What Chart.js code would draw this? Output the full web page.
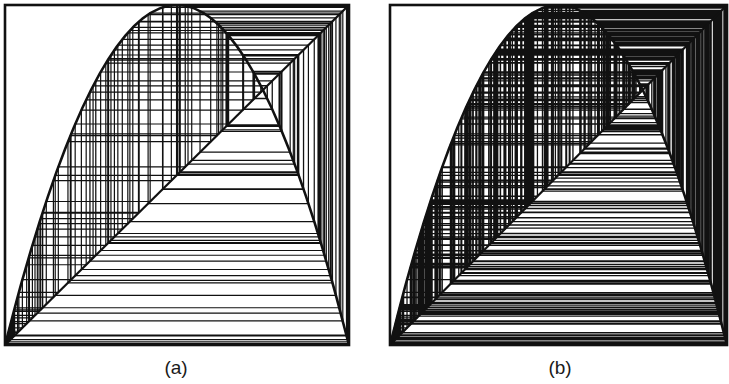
<!DOCTYPE html>
<html>
<head>
<meta charset="utf-8">
<script src="https://cdn.jsdelivr.net/npm/chart.js@4"></script>
<style>
  body { margin: 0; background: #fff; width: 729px; height: 384px; position: relative; overflow: hidden; }
  canvas { position: absolute; }
  .label {
    position: absolute; top: 357px; transform: translateX(-50%);
    font-family: "Liberation Sans", Arial, sans-serif; font-size: 19px; color: #1a1a1a;
  }
</style>
</head>
<body>
<canvas id="chartA" width="348" height="344" style="left:3px;top:3px"></canvas>
<canvas id="chartB" width="341" height="344" style="left:388px;top:3px"></canvas>
<div class="label" style="left:176px">(a)</div>
<div class="label" style="left:560px">(b)</div>
<script>
// the map curve, sampled
const curveX = [0, 0.05, 0.1, 0.15, 0.2, 0.25, 0.3, 0.35, 0.4, 0.45, 0.5,
  0.55, 0.6, 0.65, 0.7, 0.75, 0.8, 0.85, 0.9, 0.95, 1];
const curveY = [0, 0.19, 0.36, 0.51, 0.64, 0.75, 0.84, 0.91, 0.96, 0.99, 1,
  0.99, 0.96, 0.91, 0.84, 0.75, 0.64, 0.51, 0.36, 0.19, 0];

// y = x line
const diagX = [0, 1];
const diagY = [0, 1];

// iterates x0, x1, x2, ... in three stretches
const orbit1 = [
  0.12, 0.422, 0.976, 0.094, 0.341, 0.899, 0.363, 0.925, 0.278, 0.803,
  0.633, 0.929, 0.264, 0.777, 0.693, 0.851, 0.507, 0.9998, 0.0008, 0.0032,
  0.0128, 0.0505, 0.192, 0.621, 0.941, 0.222, 0.691, 0.854, 0.499, 0.9999,
  0.0004, 0.0016, 0.0064, 0.0254, 0.099, 0.357, 0.918, 0.301, 0.842, 0.532,
  0.996, 0.016, 0.063, 0.236, 0.721, 0.805, 0.628, 0.934, 0.247, 0.744,
  0.762, 0.725, 0.798, 0.645, 0.916, 0.308, 0.853, 0.502, 0.99998, 0.00008,
  0.00032, 0.00128, 0.0051, 0.0203, 0.0796, 0.293, 0.829, 0.567, 0.982, 0.071,
  0.2638, 0.7768, 0.6935, 0.8502, 0.5094, 0.99965, 0.0014, 0.0056, 0.0223, 0.0872,
  0.318, 0.868, 0.458, 0.993, 0.028, 0.109, 0.388, 0.95, 0.19, 0.616,
  0.946, 0.204, 0.65, 0.91, 0.328, 0.882, 0.416, 0.9718, 0.1096, 0.39,
  0.952, 0.183, 0.598, 0.962, 0.146, 0.4987, 0.99999
];
const orbit2 = [
  0.00004, 0.00016, 0.00064, 0.00256, 0.0102, 0.0404, 0.155, 0.524, 0.9977, 0.0092,
  0.0365, 0.1407, 0.4836, 0.9989, 0.0044, 0.0175, 0.0688, 0.256, 0.762, 0.7254,
  0.7968, 0.6476, 0.9129, 0.3181, 0.8677, 0.4592, 0.9933, 0.0266, 0.1036, 0.3715,
  0.934, 0.2468, 0.7436, 0.7626, 0.7242, 0.7989, 0.6426, 0.9187, 0.2988, 0.8381,
  0.5428, 0.9927, 0.029, 0.1126, 0.3997, 0.9598, 0.1543, 0.522, 0.9981, 0.0076,
  0.0302, 0.1172, 0.4139, 0.9704, 0.1149, 0.4068, 0.9653, 0.134, 0.4642, 0.9949,
  0.0204, 0.0799, 0.2941, 0.8304, 0.5633, 0.984, 0.0631, 0.2365, 0.7223, 0.8023,
  0.6345, 0.9276, 0.2686, 0.7858, 0.6733, 0.8799, 0.4227, 0.9761, 0.0933, 0.3384,
  0.8955, 0.3743, 0.9368, 0.2368, 0.7229, 0.8013, 0.6369, 0.925, 0.2774, 0.8018,
  0.6357, 0.9263, 0.2731, 0.7941, 0.654, 0.9051, 0.3436, 0.9022, 0.3529, 0.9135,
  0.3161, 0.8647, 0.468, 0.9959, 0.0163, 0.0641, 0.24, 0.7296, 0.7891, 0.6657,
  0.8902, 0.391, 0.9525, 0.181, 0.593, 0.9654, 0.1336, 0.463, 0.9945, 0.0219,
  0.0857, 0.3134, 0.8607, 0.4796, 0.9983, 0.0068, 0.027, 0.1051, 0.3762, 0.9387,
  0.2302, 0.7088, 0.8256, 0.5759, 0.977, 0.0899, 0.3273, 0.8807, 0.4203, 0.9746
];
const orbit3 = [
  0.099, 0.3569, 0.9181, 0.3008, 0.8413, 0.5341, 0.9954, 0.0183, 0.0719, 0.2669,
  0.7827, 0.6803, 0.87, 0.4524, 0.9909, 0.0361, 0.1392, 0.4793, 0.99829, 0.00683,
  0.02713, 0.1056, 0.3778, 0.9403, 0.2245, 0.6964, 0.8457, 0.52197, 0.99807, 0.0077,
  0.0306, 0.1187, 0.4184, 0.97337, 0.1037, 0.3718, 0.9343, 0.2455, 0.7409, 0.7679,
  0.7129, 0.8187, 0.5937, 0.9649, 0.1355, 0.4686, 0.9961, 0.0155, 0.061, 0.2291,
  0.7065, 0.8294, 0.566, 0.9826, 0.0684, 0.2549, 0.7597, 0.7302, 0.788, 0.6682,
  0.8868, 0.4015, 0.9612, 0.1492, 0.5078, 0.99976, 0.00096, 0.00384, 0.0153, 0.0603,
  0.2267, 0.70123, 0.83803, 0.5429, 0.9926, 0.0294, 0.1141, 0.4043, 0.9634, 0.141,
  0.4845, 0.999, 0.004, 0.0159, 0.0626, 0.2347, 0.7185, 0.809, 0.6181, 0.9442,
  0.2107, 0.6652, 0.8908, 0.3891, 0.9508, 0.1871, 0.6084, 0.953, 0.1792, 0.5884,
  0.9687, 0.1213, 0.4264, 0.9783, 0.0849, 0.3108, 0.8568, 0.4908, 0.9997, 0.0012,
  0.0048, 0.0191, 0.0749, 0.2772, 0.8014, 0.6366, 0.9254, 0.2761, 0.7995, 0.6412,
  0.9203, 0.2934, 0.8293, 0.5663, 0.9824, 0.0692, 0.2577, 0.7652, 0.7187, 0.8087,
  0.6188, 0.9436, 0.2129, 0.6703, 0.884, 0.4102, 0.9677, 0.125, 0.4375, 0.9844,
  0.0614, 0.2305, 0.7095, 0.8244, 0.5791, 0.975, 0.0975, 0.352, 0.9124, 0.3197, 0.87
];
const orbit = orbit1.concat(orbit2, orbit3);

// (a) shows the first stepsA iterates, (b) the whole run
const stepsA = 150;

// staircase path: up/down to the curve, across to the diagonal, repeat
function cobweb(xs) {
  const pts = [{ x: xs[0], y: xs[0] }];
  for (let i = 0; i < xs.length - 1; i++) {
    pts.push({ x: xs[i], y: xs[i + 1] });
    pts.push({ x: xs[i + 1], y: xs[i + 1] });
  }
  return pts;
}

const toPoints = (xs, ys) => xs.map((x, i) => ({ x, y: ys[i] }));

// box around the plot area
const frame = {
  id: "frame",
  afterDatasetsDraw(chart) {
    const { ctx, chartArea: a } = chart;
    ctx.save();
    ctx.strokeStyle = "#111";
    ctx.lineWidth = 2.6;
    ctx.strokeRect(a.left, a.top, a.right - a.left, a.bottom - a.top);
    ctx.restore();
  },
};

function drawPanel(id, xs, webWidth) {
  new Chart(document.getElementById(id), {
    type: "scatter",
    data: {
      datasets: [
        {
          data: toPoints(curveX, curveY),
          showLine: true,
          cubicInterpolationMode: "monotone",
          borderColor: "#111",
          borderWidth: 2.6,
          pointRadius: 0,
        },
        {
          data: toPoints(diagX, diagY),
          showLine: true,
          borderColor: "#111",
          borderWidth: 2.2,
          pointRadius: 0,
        },
        {
          data: cobweb(xs),
          showLine: true,
          tension: 0,
          borderColor: "#111",
          borderWidth: webWidth,
          pointRadius: 0,
        },
      ],
    },
    options: {
      responsive: false,
      animation: false,
      events: [],
      layout: { padding: 2 },
      scales: {
        x: { type: "linear", min: 0, max: 1, display: false },
        y: { type: "linear", min: 0, max: 1, display: false },
      },
      plugins: { legend: { display: false }, tooltip: { enabled: false } },
    },
    plugins: [frame],
  });
}

drawPanel("chartA", orbit.slice(0, stepsA), 1.2);
drawPanel("chartB", orbit, 1.3);
</script>
</body>
</html>
